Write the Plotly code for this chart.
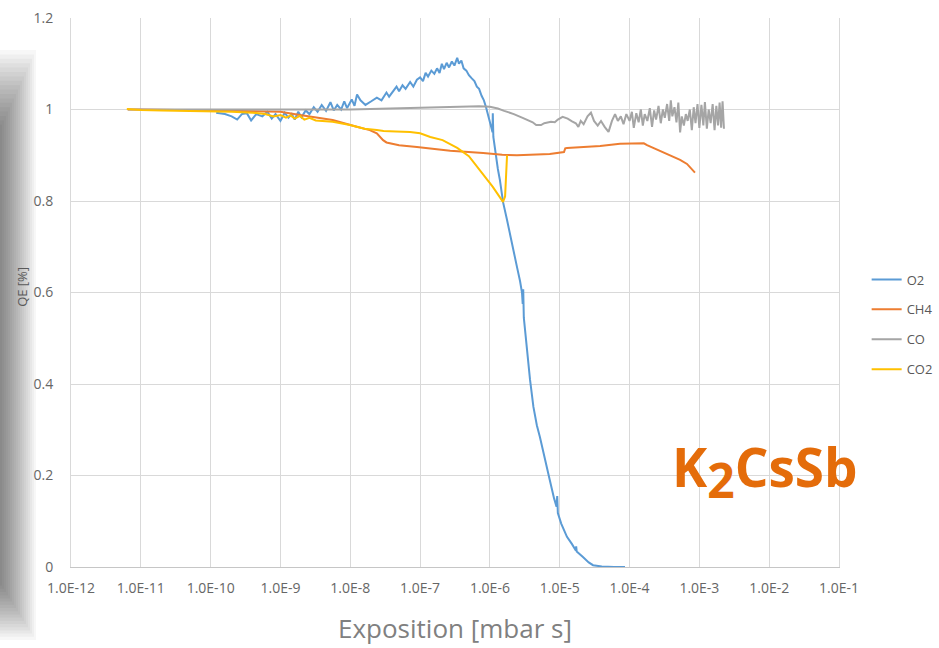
import plotly.graph_objects as go

# ---- data: exposure [mbar s] vs. relative QE ----
o2_x = [1.2e-10, 1.6e-10, 2.0e-10, 2.4e-10, 2.8e-10, 3.3e-10, 3.8e-10, 4.5e-10, 5.5e-10, 6.5e-10,
        7.5e-10, 8.5e-10, 1.0e-9, 1.15e-9, 1.3e-9, 1.45e-9, 1.6e-9, 1.8e-9, 2.0e-9, 2.3e-9,
        2.6e-9, 3.0e-9, 3.4e-9, 3.9e-9, 4.5e-9, 5.2e-9, 5.8e-9, 6.5e-9, 7.4e-9, 8.2e-9,
        9.0e-9, 1.05e-8, 1.15e-8, 1.25e-8, 1.4e-8, 1.65e-8, 2.0e-8, 2.4e-8, 2.8e-8, 3.3e-8,
        3.6e-8, 4.2e-8, 4.6e-8, 5.0e-8, 5.6e-8, 6.2e-8, 7.2e-8, 8.0e-8, 9.0e-8, 1.0e-7,
        1.1e-7, 1.2e-7, 1.3e-7, 1.45e-7, 1.6e-7, 1.75e-7, 1.9e-7, 2.05e-7, 2.2e-7, 2.4e-7,
        2.6e-7, 2.85e-7, 3.1e-7, 3.4e-7, 3.6e-7, 3.9e-7, 4.2e-7, 4.6e-7, 5.0e-7, 5.5e-7,
        6.0e-7, 6.5e-7, 7.0e-7, 7.6e-7, 8.2e-7, 8.8e-7, 9.4e-7, 1.0e-6, 1.05e-6, 1.09e-6,
        1.1e-6, 1.12e-6, 1.2e-6, 1.3e-6, 1.39e-6, 1.54e-6, 1.75e-6, 1.94e-6, 2.14e-6, 2.44e-6,
        2.7e-6, 2.88e-6, 2.95e-6, 3.0e-6, 3.06e-6, 3.4e-6, 3.75e-6, 4.2e-6, 4.7e-6, 5.2e-6,
        6.2e-6, 7.2e-6, 8.3e-6, 9.0e-6, 9.2e-6, 9.4e-6, 1.05e-5, 1.27e-5, 1.5e-5, 1.7e-5,
        1.72e-5, 1.75e-5, 2.15e-5, 2.6e-5, 3.0e-5, 4.0e-5, 6.0e-5, 8.6e-5]
o2_y = [0.993, 0.990, 0.985, 0.978, 0.990, 0.992, 0.976, 0.990, 0.985, 0.995,
        0.980, 0.990, 0.975, 0.993, 0.982, 0.990, 0.978, 0.995, 0.983, 0.998,
        0.990, 1.005, 0.995, 1.010, 0.997, 1.016, 0.998, 1.010, 1.000, 1.018,
        1.003, 1.022, 1.008, 1.033, 1.020, 1.010, 1.018, 1.026, 1.020, 1.037,
        1.028, 1.042, 1.050, 1.040, 1.053, 1.045, 1.060, 1.050, 1.065, 1.070,
        1.062, 1.080, 1.072, 1.085, 1.078, 1.090, 1.080, 1.100, 1.088, 1.102,
        1.092, 1.105, 1.096, 1.113, 1.100, 1.107, 1.090, 1.085, 1.075, 1.068,
        1.062, 1.050, 1.045, 1.030, 1.020, 1.005, 0.990, 0.975, 0.960, 0.950,
        0.992, 0.940, 0.905, 0.870, 0.846, 0.798, 0.760, 0.730, 0.695, 0.656,
        0.625, 0.600, 0.575, 0.607, 0.545, 0.470, 0.410, 0.350, 0.310, 0.284,
        0.230, 0.190, 0.150, 0.132, 0.155, 0.118, 0.095, 0.066, 0.050, 0.036,
        0.045, 0.034, 0.022, 0.010, 0.004, 0.001, 0.0, 0.0]

ch4_x = [6.5e-12, 1e-11, 1e-10, 5e-10, 1.0e-9, 1.9e-9, 5.6e-9, 1.2e-8, 1.9e-8, 2.4e-8,
         2.7e-8, 2.95e-8, 3.3e-8, 3.7e-8, 5e-8, 9e-8, 2.7e-7, 8e-7, 1.5e-6, 2.44e-6,
         5e-6, 7.2e-6, 1.15e-5, 1.2e-5, 1.27e-5, 3.8e-5, 7.3e-5, 1.41e-4, 1.6e-4, 1.78e-4,
         2.5e-4, 3.44e-4, 5.3e-4, 6.65e-4, 8.65e-4]
ch4_y = [1.000, 1.000, 0.998, 0.997, 0.995, 0.988, 0.977, 0.963, 0.955, 0.948,
         0.940, 0.933, 0.928, 0.926, 0.922, 0.918, 0.910, 0.905, 0.901, 0.900,
         0.901, 0.903, 0.907, 0.915, 0.916, 0.920, 0.925, 0.927, 0.926, 0.922,
         0.912, 0.903, 0.890, 0.881, 0.862]

co_x = [6.5e-12, 1e-9, 1e-8, 1e-7, 3e-7, 7e-7, 1.0e-6, 1.3e-6, 1.6e-6, 2.2e-6,
        3.0e-6, 4.1e-6, 4.6e-6, 5.4e-6, 6.0e-6, 7.5e-6, 8.5e-6, 9.4e-6, 1.1e-5, 1.3e-5,
        1.5e-5, 1.7e-5, 1.85e-5, 2.0e-5, 2.2e-5, 2.5e-5, 2.8e-5, 3.1e-5, 3.5e-5, 3.9e-5,
        4.4e-5, 5.0e-5, 5.6e-5, 6.2e-5, 6.8e-5, 7.5e-5, 8.2e-5, 9.0e-5, 1.0e-4, 1.08e-4,
        1.15e-4, 1.25e-4, 1.35e-4, 1.45e-4, 1.55e-4, 1.65e-4, 1.8e-4, 1.95e-4, 2.1e-4, 2.25e-4,
        2.4e-4, 2.6e-4, 2.8e-4, 3.0e-4, 3.2e-4, 3.45e-4, 3.7e-4, 3.9e-4, 4.1e-4, 4.4e-4,
        4.7e-4, 5.0e-4, 5.3e-4, 5.6e-4, 6.0e-4, 6.4e-4, 6.8e-4, 7.3e-4, 7.8e-4, 8.3e-4,
        8.8e-4, 9.4e-4, 1.0e-3, 1.07e-3, 1.14e-3, 1.2e-3, 1.28e-3, 1.36e-3, 1.45e-3, 1.55e-3,
        1.65e-3, 1.75e-3, 1.85e-3, 1.95e-3, 2.05e-3, 2.15e-3, 2.25e-3]
co_y = [1.000, 1.000, 1.000, 1.004, 1.006, 1.007, 1.006, 1.002, 0.997, 0.990,
        0.981, 0.972, 0.966, 0.966, 0.970, 0.973, 0.972, 0.978, 0.984, 0.980,
        0.974, 0.970, 0.962, 0.975, 0.968, 0.985, 0.993, 0.975, 0.965, 0.975,
        0.962, 0.951, 0.975, 0.990, 0.975, 0.985, 0.968, 0.990, 0.975, 0.995,
        0.960, 0.992, 0.972, 1.000, 0.965, 0.990, 0.975, 1.003, 0.962, 0.998,
        0.978, 1.008, 0.970, 1.000, 0.982, 1.012, 0.975, 1.020, 0.985, 1.005,
        0.972, 1.015, 0.950, 0.985, 0.965, 0.990, 0.975, 1.000, 0.955, 1.005,
        0.970, 1.012, 0.960, 1.010, 0.965, 1.016, 0.958, 1.000, 0.970, 1.012,
        0.955, 1.008, 0.965, 1.015, 0.960, 1.018, 0.958]

co2_x = [6.3e-12, 1e-11, 2e-11, 5e-11, 1e-10, 2e-10, 4e-10, 6e-10, 8e-10, 1.0e-9,
         1.2e-9, 1.4e-9, 1.6e-9, 1.9e-9, 2.2e-9, 2.6e-9, 3.2e-9, 5.6e-9, 9.9e-9, 1.6e-8,
         2.4e-8, 3.0e-8, 4.5e-8, 7.2e-8, 1.0e-7, 1.4e-7, 2.1e-7, 3.4e-7, 5.0e-7, 7.2e-7,
         1.1e-6, 1.54e-6, 1.65e-6, 1.76e-6]
co2_y = [1.001, 0.999, 0.998, 0.997, 0.996, 0.995, 0.993, 0.990, 0.985, 0.988,
         0.982, 0.987, 0.980, 0.986, 0.978, 0.982, 0.976, 0.973, 0.966, 0.958,
         0.955, 0.953, 0.952, 0.951, 0.948, 0.940, 0.933, 0.916, 0.898, 0.868,
         0.831, 0.798, 0.810, 0.900]

x_tickvals = [1e-12, 1e-11, 1e-10, 1e-9, 1e-8, 1e-7, 1e-6, 1e-5, 1e-4, 1e-3, 1e-2, 1e-1]
x_ticktext = ["1.0E-12", "1.0E-11", "1.0E-10", "1.0E-9", "1.0E-8", "1.0E-7",
              "1.0E-6", "1.0E-5", "1.0E-4", "1.0E-3", "1.0E-2", "1.0E-1"]

series = [
    ("O2", o2_x, o2_y, "#5B9BD5"),
    ("CH4", ch4_x, ch4_y, "#ED7D31"),
    ("CO", co_x, co_y, "#A5A5A5"),
    ("CO2", co2_x, co2_y, "#FFC000"),
]

fig = go.Figure()
for name, xs, ys, color in series:
    fig.add_trace(go.Scatter(
        x=xs, y=ys, name=name, mode="lines", legendgroup=name,
        line=dict(color=color, width=2),
    ))

FONT = "Open Sans"
TICK_COLOR = "#666666"

fig.update_layout(
    width=939, height=648,
    margin=dict(l=71, r=100, t=18, b=81, autoexpand=False),
    paper_bgcolor="white", plot_bgcolor="white",
    font=dict(family=FONT, size=14, color=TICK_COLOR),
    showlegend=True,
    legend=dict(
        x=1.036, y=0.551, xanchor="left", yanchor="top",
        font=dict(family=FONT, size=13, color="#595959"),
        tracegroupgap=10, bgcolor="rgba(0,0,0,0)",
    ),
    xaxis=dict(
        type="log", range=[-12, -1],
        tickmode="array", tickvals=x_tickvals, ticktext=x_ticktext,
        showgrid=True, gridcolor="#d9d9d9", gridwidth=1,
        showline=True, linecolor="#c6c6c6", linewidth=1,
        ticks="", ticklabelstandoff=8,
        tickfont=dict(family=FONT, size=14, color=TICK_COLOR),
        zeroline=False,
    ),
    yaxis=dict(
        range=[0, 1.2], dtick=0.2, tick0=0,
        showgrid=True, gridcolor="#d9d9d9", gridwidth=1,
        showline=True, linecolor="#d9d9d9", linewidth=1, mirror=True,
        ticks="", ticklabelstandoff=14,
        tickfont=dict(family=FONT, size=14, color=TICK_COLOR),
        zeroline=False,
    ),
)

# axis titles
fig.add_annotation(
    text="Exposition [mbar s]", xref="paper", yref="paper",
    x=0.5, y=-0.112, xanchor="center", yanchor="middle", showarrow=False,
    borderpad=0, font=dict(family=FONT, size=26, color="#808080"),
)
fig.add_annotation(
    text="QE [%]", xref="paper", yref="paper",
    x=-0.064, y=0.51, xanchor="center", yanchor="middle", showarrow=False,
    textangle=-90, font=dict(family=FONT, size=13, color="#595959"),
)

# material label
fig.add_annotation(
    text="K<sub><span style='font-size:48px'>2</span></sub>CsSb",
    xref="paper", yref="paper", x=0.904, y=0.174,
    xanchor="center", yanchor="middle", showarrow=False,
    font=dict(family=FONT, size=53, color="#E46C0A", weight="bold"),
)

# soft shadow along the left edge of the slide: thin stacked bands
for w in range(2, 38, 2):
    top = 50 + (36 - w) * 2.2
    bottom = 640 - (36 - w) * 1.6
    fig.add_shape(
        type="rect", xref="paper", yref="paper", layer="below",
        x0=(0 - 71) / 768, x1=(w - 71) / 768,
        y0=(567 - bottom) / 549, y1=(567 - top) / 549,
        fillcolor="black", opacity=0.03, line=dict(width=0),
    )

fig.write_html("out.html")
